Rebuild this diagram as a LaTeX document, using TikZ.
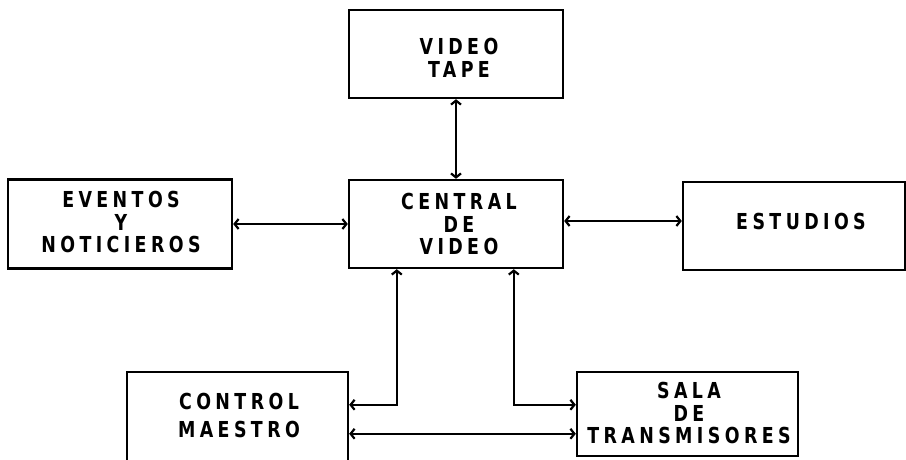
\documentclass[tikz,border=0pt]{standalone}
\usepackage{fontspec}
\newfontfamily\plotfont[LetterSpace=20,FakeStretch=0.88]{DejaVu Sans Condensed Bold}
\usetikzlibrary{arrows.meta,calc}
\tikzset{
  box/.style={draw, line width=2.4pt, rectangle, inner sep=0pt},
  txt/.style={align=center, inner sep=0pt, font=\plotfont\fontsize{22}{22.5}\selectfont},
  biarrow/.style={line width=2.2pt, {Straight Barb[length=4pt,width=10pt]}-{Straight Barb[length=4pt,width=10pt]}}
}
\begin{document}
\begin{tikzpicture}[x=1pt,y=-1pt]
\useasboundingbox (0,0) rectangle (906,459);
\fill[white] (0,0) rectangle (906,459);
\clip (0,0) rectangle (906,459);
% boxes
\node[box, minimum width=214pt, minimum height=88pt] (vt) at (456,54) {};
\node[box, minimum width=214pt, minimum height=88pt] (cv) at (456,224) {};
\node[box, minimum width=224pt, minimum height=89pt] (ev) at (120,224) {};
\node[box, minimum width=222pt, minimum height=88pt] (es) at (794,226) {};
\node[box, minimum width=221pt, minimum height=100pt] (ctl) at (237.5,422) {};
\node[box, minimum width=221pt, minimum height=84pt] (sala) at (687.5,414) {};
% texts
\node[txt] at (459,58) {VIDEO\\TAPE};
\node[txt] at (459,224) {CENTRAL\\DE\\VIDEO};
\node[txt] at (121,222) {EVENTOS\\Y\\NOTICIEROS};
\node[txt] at (801,221) {ESTUDIOS};
\node[txt, font=\plotfont\fontsize{22}{28}\selectfont] at (239,415) {CONTROL\\MAESTRO};
\node[txt] at (689,413) {SALA\\DE\\TRANSMISORES};
% connectors
\draw[biarrow] (vt.south) -- (cv.north);
\draw[biarrow] (ev.east) -- (cv.west);
\draw[biarrow] ($(cv.east)+(0,-3)$) -- ($(cv.east -| es.west)+(0,-3)$);
\draw[biarrow] ($(cv.south west)+(49,0)$) |- ($(ctl.north east)+(0,34)$);
\draw[biarrow] ($(cv.south west)+(166,0)$) |- ($(sala.north west)+(0,34)$);
\draw[biarrow] ($(ctl.north east)+(0,63)$) -- ($(sala.north west)+(0,63)$);
\end{tikzpicture}
\end{document}
